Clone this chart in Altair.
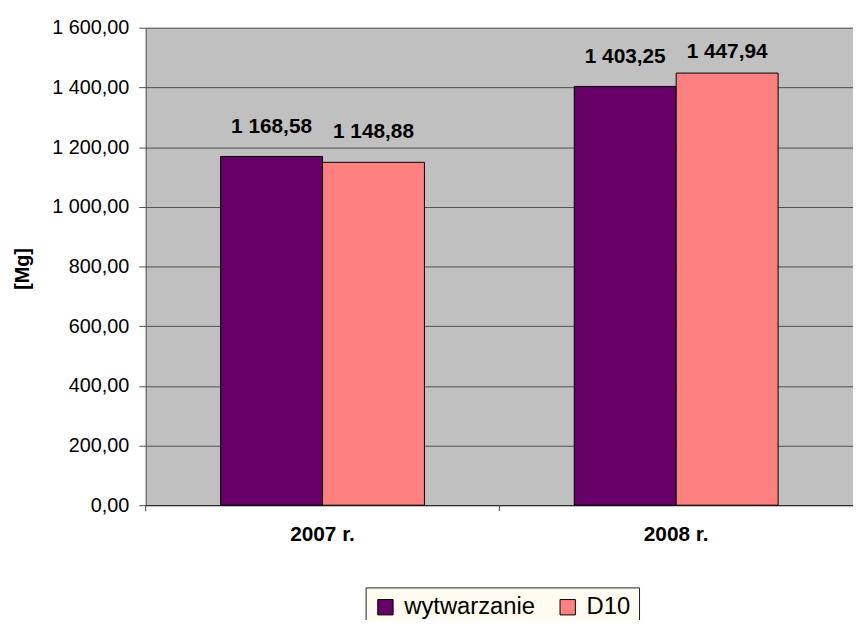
import altair as alt
import pandas as pd

categories = ["2007 r.", "2008 r."]
series = ["wytwarzanie", "D10"]
wytwarzanie = [1168.58, 1403.25]
d10 = [1148.88, 1447.94]
colors = ["#660066", "#FF8080"]
y_ticks = [0, 200, 400, 600, 800, 1000, 1200, 1400, 1600]

rows = []
for i, c in enumerate(categories):
    rows.append({"kat": c, "seria": series[0], "val": wytwarzanie[i]})
    rows.append({"kat": c, "seria": series[1], "val": d10[i]})
df = pd.DataFrame(rows)
df_cat = pd.DataFrame({"kat": categories})

FONT = "Liberation Sans"
xscale = alt.Scale(paddingInner=0, paddingOuter={"expr": "-0.0111"}, align=0)

x = alt.X("kat:N", sort=categories, title=None, scale=xscale,
          axis=alt.Axis(labelAngle=0, labelFont=FONT, labelFontSize=21, labelFontWeight="bold",
                        labelColor="black", ticks=False,
                        domainColor="#202020", labelPadding=19, grid=False))
xo = alt.XOffset("seria:N", sort=series,
                 scale=alt.Scale(paddingOuter=0.735, paddingInner=0))
y = alt.Y("val:Q", title="[Mg]",
          scale=alt.Scale(domain=[0, 1600], nice=False),
          axis=alt.Axis(values=y_ticks,
                        labelExpr="replace(replace(format(datum.value, ',.2f'), ',', ' '), '.', ',')",
                        labelFont=FONT, labelFontSize=20, labelColor="black",
                        tickSize=7, tickColor="#505050", labelPadding=10,
                        domainColor="#505050", gridColor="#505050", gridWidth=1,
                        titleFont=FONT, titleFontSize=20, titleFontWeight="bold",
                        titleColor="black", titleX=-124, titleY=243, titleAngle=-90,
                        titleBaseline="middle", titleAlign="center"))

color = alt.Color("seria:N", sort=series, title=None,
                  scale=alt.Scale(domain=series, range=colors),
                  legend=alt.Legend(orient="none", legendX=222, legendY=565,
                                    direction="horizontal", symbolType="square",
                                    symbolSize=240, symbolStrokeColor="black",
                                    symbolStrokeWidth=1, labelFont=FONT, labelFontSize=24,
                                    labelColor="black", labelOffset=7, columnPadding=20,
                                    fillColor="#FFFBF0", strokeColor="#202020",
                                    padding=8))

bars = alt.Chart(df).mark_bar(stroke="black", strokeWidth=1).encode(
    x=x, xOffset=xo, y=y, color=color)

text = alt.Chart(df).transform_calculate(
    lab="replace(replace(format(datum.val, ',.2f'), ',', ' '), '.', ',')",
    ly="min(datum.val + 100, 1517)"
).mark_text(font=FONT, fontSize=21, fontWeight="bold", color="black",
            baseline="middle").encode(
    x=alt.X("kat:N", sort=categories), xOffset=alt.XOffset("seria:N", sort=series),
    y=alt.Y("ly:Q"), text="lab:N")

ticks = alt.Chart(df_cat).mark_rule(color="#404040", strokeWidth=1).encode(
    x=alt.X("kat:N", sort=categories, bandPosition=0),
    y=alt.value(482), y2=alt.value(488))

chart = alt.layer(bars, text, ticks).properties(
    width=714, height=482,
    autosize=alt.AutoSizeParams(type="none"),
    padding={"left": 139, "top": 17, "right": 0, "bottom": 113},
    background="white"
).configure_view(fill="#C0C0C0", stroke=None)

chart.save("out.html", embed_options={"renderer": "svg", "actions": False})
